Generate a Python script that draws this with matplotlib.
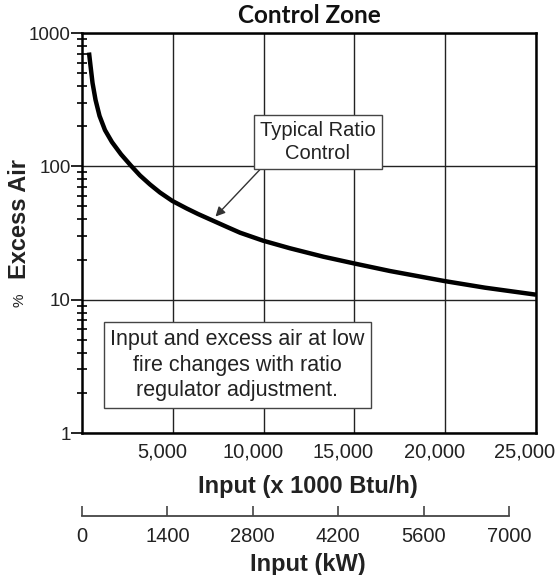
import matplotlib
matplotlib.use("Agg")
import matplotlib.pyplot as plt
import matplotlib.ticker as mticker
import matplotlib.transforms as mtransforms

# ---- data ----
input_btu = [385, 470, 580, 745, 965, 1265, 1650, 2150, 2700, 3195, 3745,
             4295, 4975, 5765, 6390, 7985, 8700, 9970, 11450, 13290, 14980,
             16960, 19950, 22190, 25000]
excess_air = [714, 566, 422, 315, 239, 187, 152, 123, 101, 85.4, 73.1,
              63.6, 55.0, 48.3, 43.9, 35.1, 31.8, 27.7, 24.3, 21.0, 18.7,
              16.4, 13.8, 12.3, 10.9]
btu_ticks = [5000, 10000, 15000, 20000, 25000]
btu_tick_labels = ["5,000", "10,000", "15,000", "20,000", "25,000"]
y_ticks = [1, 10, 100, 1000]
y_tick_labels = ["1", "10", "100", "1000"]
kw_ticks = [0, 1400, 2800, 4200, 5600, 7000]
kw_tick_labels = ["0", "1400", "2800", "4200", "5600", "7000"]

SANS = "Liberation Sans"
W, H = 555, 575
fig = plt.figure(figsize=(W / 100, H / 100), dpi=100)

def fx(px):
    return px / W

def fy(py):
    return 1 - py / H

# main axes
L, R, T, B = 82, 536, 33, 433
ax = fig.add_axes([fx(L), fy(B), fx(R - L), (B - T) / H])
ax.set_yscale("log")
ax.set_xlim(0, 25000)
ax.set_ylim(1, 1000)

ax.plot(input_btu, excess_air, color="black", lw=3.2, solid_capstyle="butt",
        solid_joinstyle="round", zorder=3)

ax.set_xticks(btu_ticks)
ax.set_xticklabels(btu_tick_labels, fontfamily=SANS, fontsize=14.5, color="#222222")
ax.set_yticks(y_ticks)
ax.set_yticklabels(y_tick_labels, fontfamily=SANS, fontsize=13.5, color="#222222")
ax.yaxis.set_minor_locator(mticker.LogLocator(base=10, subs=range(2, 10)))
ax.yaxis.set_minor_formatter(mticker.NullFormatter())
ax.tick_params(axis="x", length=0, pad=7)
ax.tick_params(axis="y", which="major", length=8, width=1.2, direction="out", pad=0)
ax.tick_params(axis="y", which="minor", length=7, width=1.2, direction="inout")
# shift x tick labels slightly left like the reference
off = mtransforms.ScaledTranslation(-11 / 100, 0, fig.dpi_scale_trans)
for lab in ax.get_xticklabels():
    lab.set_transform(lab.get_transform() + off)

ax.grid(True, which="major", color="#222222", lw=1.0)
for s in ax.spines.values():
    s.set_linewidth(1.8)
    s.set_color("black")

ax.set_xlabel("Input (x 1000 Btu/h)", fontfamily=SANS, fontsize=17, fontweight="bold",
              color="#222222")
ax.xaxis.set_label_coords((308 - L) / (R - L), -(486 - B) / (B - T))
ax.xaxis.label.set_va("center")
ax.set_ylabel("Excess Air", fontfamily=SANS, fontsize=17, fontweight="bold",
              color="#222222")
ax.yaxis.set_label_coords(-(L - 20) / (R - L), (B - 219) / (B - T))
ax.yaxis.label.set_va("center")
fig.text(fx(20), fy(300), "%", rotation=90, ha="center", va="center",
         fontfamily=SANS, fontsize=11, color="#222222")

ax.set_title("Control Zone", fontfamily="Lato", fontweight="bold", fontsize=17.5,
             pad=7, color="#111111")

# annotations
box_style = dict(boxstyle="square,pad=0.3", fc="white", ec="#444444", lw=1.0)
ax.annotate("Typical Ratio\nControl", xy=(7350, 42), xycoords="data",
            xytext=(318, H - 142), textcoords="figure pixels",
            ha="center", va="center", fontfamily=SANS, fontsize=14.5,
            color="#222222", bbox=box_style, zorder=5, linespacing=1.3,
            arrowprops=dict(arrowstyle="-|>", color="#333333", lw=1.0,
                            mutation_scale=14, shrinkA=0, shrinkB=0,
                            relpos=(0.05, 0.0)))
fig.text(fx(237.5), fy(365), "Input and excess air at low\nfire changes with ratio\nregulator adjustment.",
         ha="center", va="center", fontfamily=SANS, fontsize=15.5, color="#222222",
         linespacing=1.3, zorder=5,
         bbox=dict(boxstyle="square,pad=0.3", fc="white", ec="#444444", lw=1.0))

# secondary kW axis
ax2 = fig.add_axes([fx(82), fy(516), fx(509 - 82), 0.001])
ax2.set_xlim(0, 7000)
ax2.set_yticks([])
for side in ("top", "left", "right"):
    ax2.spines[side].set_visible(False)
ax2.spines["bottom"].set_color("#444444")
ax2.spines["bottom"].set_linewidth(1.3)
ax2.patch.set_visible(False)
ax2.set_xticks(kw_ticks)
ax2.set_xticklabels(kw_tick_labels, fontfamily=SANS, fontsize=14.5, color="#222222")
ax2.tick_params(axis="x", direction="in", length=7, width=1.2, color="#444444", pad=8)
ax2.set_xlabel("Input (kW)", fontfamily=SANS, fontsize=17, fontweight="bold",
               color="#222222")
ax2.xaxis.set_label_coords((308 - 82) / (509 - 82), 0)
ax2.xaxis.label.set_va("center")
lab = ax2.xaxis.label
lab.set_transform(ax2.transAxes + mtransforms.ScaledTranslation(0, -(565 - 516) / 100, fig.dpi_scale_trans))

fig.savefig("out.png", dpi=100)
